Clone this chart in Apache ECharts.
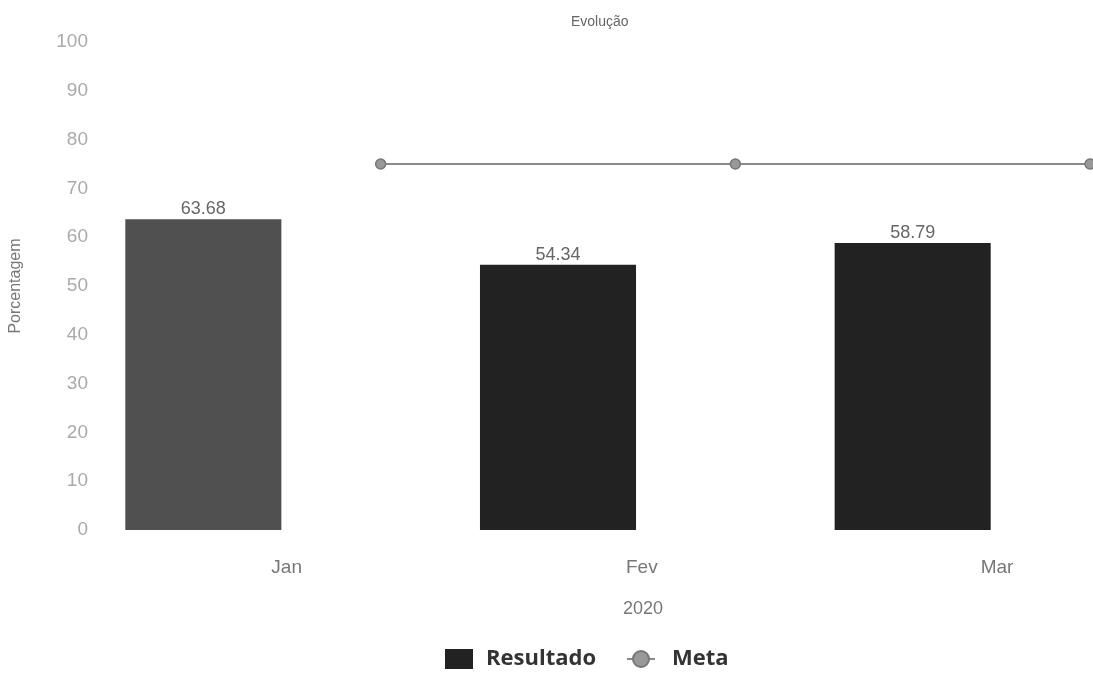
<!DOCTYPE html>
<html>
<head>
<meta charset="utf-8">
<script src="https://cdn.jsdelivr.net/npm/echarts@6/dist/echarts.min.js"></script>
<style>html,body{margin:0;padding:0;background:#fff;}#c{width:1093px;height:677px;}</style>
</head>
<body>
<div id="c"></div>
<script>
var categories = ['Jan', 'Fev', 'Mar'];
var resultado = [63.68, 54.34, 58.79];
var metaCategories = ['', 'Jan', 'Fev', 'Mar'];
var meta = [null, 75, 75, 75];
var yTicks = [0, 10, 20, 30, 40, 50, 60, 70, 80, 90, 100];
var xName = '2020';

var barColors = ['#505050', '#222222', '#222222'];
var FONT = 'Liberation Sans';

var chart = echarts.init(document.getElementById('c'));
chart.setOption({
  animation: false,
  title: {
    text: 'Evolução', left: 566, top: 10,
    textStyle: { fontSize: 14, fontWeight: 'normal', color: '#666', fontFamily: FONT }
  },
  legend: {
    bottom: 2, left: 440, itemGap: 30,
    itemWidth: 28, itemHeight: 20,
    textStyle: { fontSize: 22, fontWeight: 'bold', color: '#333', fontFamily: 'Open Sans', padding: [0, 0, 0, 8] },
    data: [
      { name: 'Resultado', icon: 'rect', itemStyle: { color: '#222' } },
      { name: 'Meta', textStyle: { padding: [0, 0, 0, 12] } }
    ]
  },
  grid: { left: 25, right: 3, top: 42, bottom: 147 },
  xAxis: [
    {
      type: 'category', data: categories,
      axisLine: { show: false }, axisTick: { show: false },
      axisLabel: { color: '#777', fontSize: 19, margin: 28, align: 'left', padding: [0, 0, 0, 68], fontFamily: FONT },
      name: xName, nameLocation: 'middle', nameGap: 70,
      nameTextStyle: { color: '#777', fontSize: 18, padding: [0, 0, 0, 170], fontFamily: FONT }
    },
    {
      type: 'category', data: metaCategories, boundaryGap: false, show: false
    }
  ],
  yAxis: {
    type: 'value', min: 0, max: 100, interval: 10, offset: -70,
    name: 'Porcentagem', nameLocation: 'middle', nameGap: 72,
    nameTextStyle: { color: '#777', fontSize: 16, fontFamily: FONT },
    axisLine: { show: false }, axisTick: { show: false }, splitLine: { show: false },
    axisLabel: {
      color: '#aaa', fontSize: 19, margin: 8, fontFamily: FONT,
      formatter: function (v) { return yTicks.indexOf(v) >= 0 ? String(v) : ''; }
    }
  },
  series: [
    {
      name: 'Resultado', type: 'bar', data: resultado, barWidth: '44%',
      itemStyle: { color: function (p) { return barColors[p.dataIndex]; } },
      label: { show: true, position: 'top', distance: 1, color: '#666', fontSize: 18, fontFamily: FONT }
    },
    {
      name: 'Meta', type: 'line', xAxisIndex: 1, data: meta,
      symbol: 'circle', symbolSize: 10, clip: false,
      lineStyle: { color: '#8a8a8a', width: 2 },
      itemStyle: { color: '#999', borderColor: '#777', borderWidth: 1.5 }
    }
  ]
});
</script>
</body>
</html>
